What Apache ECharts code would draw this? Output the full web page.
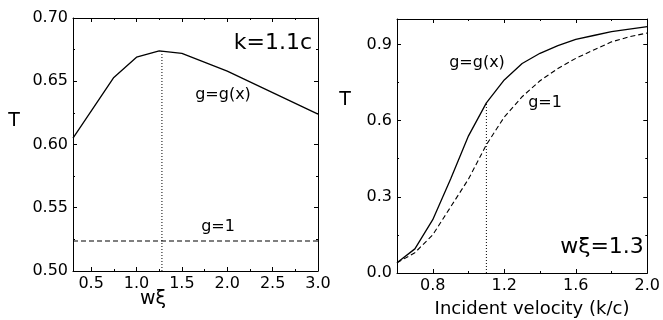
<!DOCTYPE html>
<html>
<head>
<meta charset="utf-8">
<script src="https://cdn.jsdelivr.net/npm/echarts@6/dist/echarts.min.js"></script>
<style>
  html, body { margin: 0; padding: 0; background: #fff; }
  #chart { width: 663px; height: 320px; }
</style>
</head>
<body>
<div id="chart"></div>
<script>
// left panel: T against w*xi at k = 1.1c
const widthX = [0.3, 0.75, 1.0, 1.25, 1.5, 2.0, 2.5, 3.0];
const widthT = [0.605, 0.653, 0.669, 0.674, 0.672, 0.658, 0.641, 0.624];
const flatX = [0.3, 3.0];
const flatT = [0.5237, 0.5237];
const peakX = [1.28, 1.28];
const peakT = [0.5, 0.674];

// right panel: T against incident velocity at w*xi = 1.3
const velX = [0.6, 0.7, 0.8, 0.9, 1.0, 1.1, 1.2, 1.3, 1.4, 1.5, 1.6, 1.7, 1.8, 1.9, 2.0];
const velTg = [0.04, 0.095, 0.21, 0.37, 0.54, 0.67, 0.76, 0.825, 0.865, 0.895, 0.92, 0.935, 0.95, 0.96, 0.97];
const velT1 = [0.04, 0.08, 0.15, 0.26, 0.37, 0.505, 0.614, 0.694, 0.757, 0.805, 0.845, 0.878, 0.91, 0.93, 0.945];
const markX = [1.1, 1.1];
const markT = [0, 0.67];

// ticks
const leftXTicks = [0.5, 1.0, 1.5, 2.0, 2.5, 3.0];
const leftXMinor = [0.75, 1.25, 1.75, 2.25, 2.75];
const leftYTicks = [0.5, 0.55, 0.6, 0.65, 0.7];
const leftYMinor = [0.525, 0.575, 0.625, 0.675];
const rightXTicks = [0.8, 1.2, 1.6, 2.0];
const rightXMinor = [1.0, 1.4, 1.8];
const rightYTicks = [0, 0.3, 0.6, 0.9];
const rightYMinor = [0.15, 0.45, 0.75];

const font = 'DejaVu Sans';
const zip = (xs, ys) => xs.map((x, i) => [x, ys[i]]);

// one axis with line, labels and long ticks, plus one that only carries short ticks
function axisPair(grid, position, min, max, majors, minors, labels, digits) {
  const base = { type: 'value', gridIndex: grid, position, min, max, splitLine: { show: false } };
  return [
    {
      ...base,
      axisLine: { show: true, onZero: false, lineStyle: { color: '#000', width: 1 } },
      axisTick: { show: true, inside: true, length: 4, customValues: majors, lineStyle: { color: '#000' } },
      axisLabel: {
        show: labels, customValues: majors, formatter: (v) => Number(v).toFixed(digits),
        color: '#000', fontFamily: font, fontSize: 16, margin: 5,
      },
    },
    {
      ...base,
      axisLine: { show: false, onZero: false },
      axisTick: { show: true, inside: true, length: 2, customValues: minors, lineStyle: { color: '#000' } },
      axisLabel: { show: false },
    },
  ];
}

const xAxes = [
  ...axisPair(0, 'bottom', 0.3, 3.0, leftXTicks, leftXMinor, true, 1),
  ...axisPair(0, 'top', 0.3, 3.0, leftXTicks, leftXMinor, false, 1),
  ...axisPair(1, 'bottom', 0.6, 2.0, rightXTicks, rightXMinor, true, 1),
  ...axisPair(1, 'top', 0.6, 2.0, rightXTicks, rightXMinor, false, 1),
];
const yAxes = [
  ...axisPair(0, 'left', 0.5, 0.7, leftYTicks, leftYMinor, true, 2),
  ...axisPair(0, 'right', 0.5, 0.7, leftYTicks, leftYMinor, false, 2),
  ...axisPair(1, 'left', 0, 1.0, rightYTicks, rightYMinor, true, 1),
  ...axisPair(1, 'right', 0, 1.0, rightYTicks, rightYMinor, false, 1),
];

function line(data, axis, type, width) {
  return {
    type: 'line', data, xAxisIndex: axis, yAxisIndex: axis,
    symbol: 'none', silent: true,
    lineStyle: { color: '#000', width, type },
  };
}

const txt = (x, y, text, size) => ({
  type: 'text', x, y,
  style: { text, fill: '#000', font: `${size}px "${font}"`, align: 'center', verticalAlign: 'middle' },
});

const chart = echarts.init(document.getElementById('chart'));
chart.setOption({
  animation: false,
  backgroundColor: '#fff',
  grid: [
    { left: 73, top: 18, width: 245, height: 253 },
    { left: 397, top: 19, width: 251, height: 254 },
  ],
  xAxis: xAxes,
  yAxis: yAxes,
  series: [
    line(zip(widthX, widthT), 0, 'solid', 1.3),
    line(zip(flatX, flatT), 0, [5, 3], 1.1),
    line(zip(peakX, peakT), 0, [1, 2], 1),
    line(zip(velX, velTg), 4, 'solid', 1.3),
    line(zip(velX, velT1), 4, [5, 3], 1.1),
    line(zip(markX, markT), 4, [1, 2], 1),
  ],
  graphic: [
    txt(14, 121, 'T', 19),
    txt(153, 299, 'wξ', 19),
    txt(273, 43, 'k=1.1c', 22),
    txt(223, 95, 'g=g(x)', 16),
    txt(218, 227, 'g=1', 16),
    txt(345, 100, 'T', 19),
    txt(477, 63, 'g=g(x)', 16),
    txt(545, 103, 'g=1', 16),
    txt(602, 247, 'wξ=1.3', 22),
    txt(532, 309, 'Incident velocity (k/c)', 18),
  ],
});
</script>
</body>
</html>
